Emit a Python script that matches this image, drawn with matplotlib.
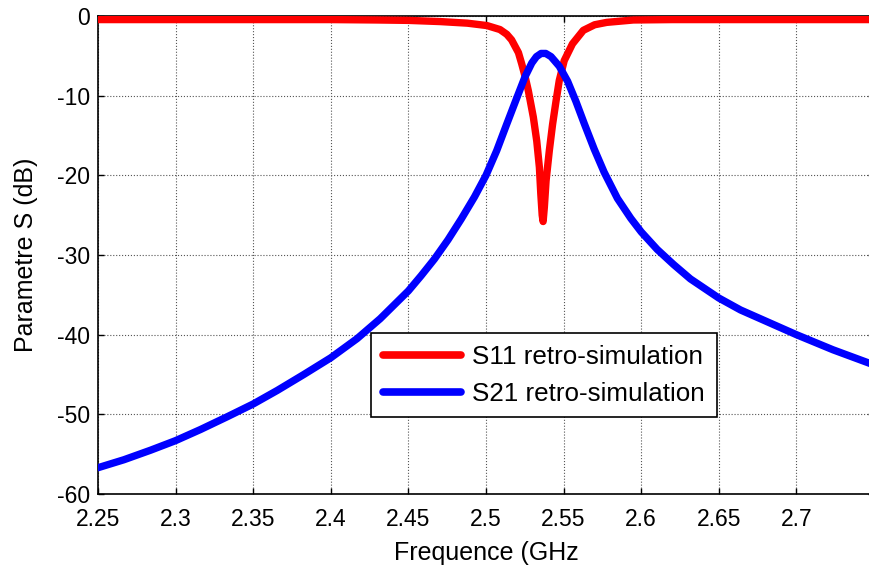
import numpy as np
import matplotlib
matplotlib.use("Agg")
import matplotlib.pyplot as plt
from matplotlib.ticker import FormatStrFormatter

plt.rcParams['font.family'] = ['Liberation Sans', 'DejaVu Sans']
plt.rcParams['axes.unicode_minus'] = False

# S11 (GHz, dB)
s11_freq = [2.25, 2.30, 2.35, 2.40, 2.43, 2.45, 2.4705, 2.488, 2.5006, 2.509,
            2.5134, 2.5165, 2.5209, 2.523, 2.5252, 2.5273, 2.5305, 2.5327,
            2.5344, 2.5353, 2.5362, 2.5368, 2.5376, 2.5387, 2.5408, 2.5429,
            2.5451, 2.5472, 2.5504, 2.5557, 2.5627, 2.570, 2.5778, 2.5949,
            2.62, 2.65, 2.70, 2.75]
s11_db = [-0.45, -0.45, -0.45, -0.45, -0.5, -0.55, -0.7, -0.9, -1.2, -1.7,
          -2.3, -3.0, -4.6, -6.0, -7.6, -9.4, -12.7, -15.7,
          -19.0, -22.3, -25.0, -25.8, -24.0, -20.7, -16.9, -13.6,
          -10.7, -8.1, -5.6, -3.5, -1.8, -1.1, -0.8, -0.5,
          -0.45, -0.45, -0.45, -0.45]

# S21 (GHz, dB)
s21_freq = [2.25, 2.2667, 2.2839, 2.30, 2.3161, 2.3333, 2.35, 2.3655, 2.3826,
            2.40, 2.4169, 2.4318, 2.45, 2.4582, 2.4668, 2.4755, 2.484, 2.4926,
            2.50, 2.5069, 2.5133, 2.5198, 2.5252, 2.5295, 2.5325, 2.5355,
            2.5385, 2.5419, 2.5472, 2.5526, 2.5579, 2.5633, 2.5697, 2.5761,
            2.5847, 2.5933, 2.60, 2.6103, 2.6209, 2.6317, 2.65, 2.664, 2.70,
            2.7236, 2.75]
s21_db = [-56.7, -55.7, -54.5, -53.3, -51.9, -50.3, -48.7, -47.0, -45.0,
          -42.9, -40.5, -38.0, -34.5, -32.6, -30.5, -28.1, -25.5, -22.7,
          -20.0, -16.9, -13.6, -10.3, -7.6, -5.9, -5.1, -4.7,
          -4.7, -5.1, -6.3, -8.2, -10.7, -13.5, -16.7, -19.6,
          -22.9, -25.4, -27.1, -29.3, -31.2, -33.0, -35.4, -36.9, -40.0,
          -41.9, -43.8]

x_ticks = [2.25, 2.3, 2.35, 2.4, 2.45, 2.5, 2.55, 2.6, 2.65, 2.7]
y_ticks = [-60, -50, -40, -30, -20, -10, 0]

fig = plt.figure(figsize=(8.69, 5.70), dpi=100)
ax = fig.add_axes([98 / 869, 1 - 494 / 570, (874 - 98) / 869, (494 - 16) / 570])

ax.plot(s11_freq, s11_db, color='#ff0000', linewidth=5.3,
        solid_capstyle='round', solid_joinstyle='round', zorder=3,
        label='S11 retro-simulation')
ax.plot(s21_freq, s21_db, color='#0000ff', linewidth=5.3,
        solid_capstyle='round', solid_joinstyle='round', zorder=3,
        label='S21 retro-simulation')

ax.set_xlim(2.25, 2.75)
ax.set_ylim(-60, 0)
ax.set_xticks(x_ticks)
ax.set_yticks(y_ticks)
ax.xaxis.set_major_formatter(FormatStrFormatter('%g'))
ax.tick_params(direction='in', top=True, right=True, length=4, width=1,
               labelsize=16.5, pad=6)
ax.tick_params(axis='x', pad=10)
ax.grid(True, linestyle=':', color='#555555', linewidth=0.8)
for sp in ax.spines.values():
    sp.set_linewidth(1.2)

ax.set_xlabel('Frequence (GHz', fontsize=18, labelpad=7)
ax.set_ylabel('Parametre S (dB)', fontsize=18, labelpad=13)

leg = ax.legend(loc='upper left', bbox_to_anchor=(371 / 869, 1 - 333 / 570),
                bbox_transform=fig.transFigure, borderaxespad=0,
                fontsize=18.7, handlelength=3.0, handletextpad=0.45,
                labelspacing=0.5, borderpad=0.45, fancybox=False,
                framealpha=1, edgecolor='black')
leg.get_frame().set_linewidth(1.2)
for line in leg.get_lines():
    line.set_linewidth(5.5)

fig.savefig('out.png', dpi=100)
